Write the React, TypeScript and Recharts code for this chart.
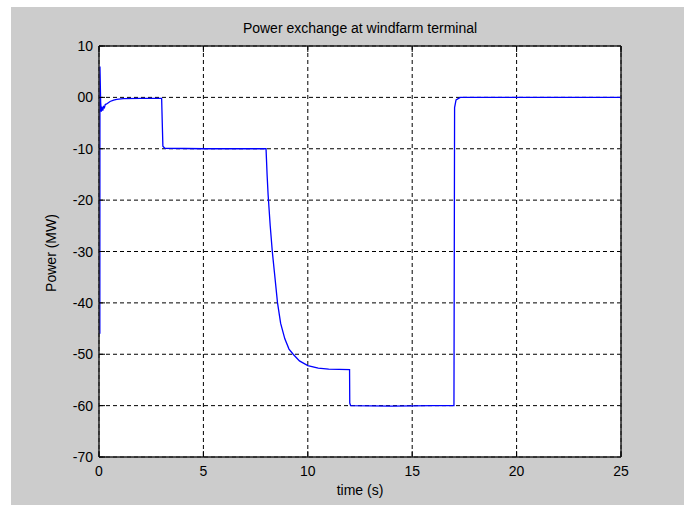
import { LineChart, Line, XAxis, YAxis, CartesianGrid } from "recharts";

// time (s)
const time = [
    0.04, 0.045, 0.06, 0.08, 0.11, 0.14, 0.18, 0.22, 0.26, 0.3, 0.4, 0.53, 0.7, 0.85, 1.16, 2, 3,
    3.03, 3.06, 3.15, 5, 8,
    8.02, 8.05, 8.1, 8.2, 8.3, 8.4, 8.55, 8.7, 8.9, 9.1, 9.3, 9.6, 10, 10.5, 11, 12,
    12.01, 12.05, 14, 16, 17,
    17.03, 17.1, 17.3, 20, 25,
];
// power (MW)
const power = [
    -46, 6, 3, -1, -2.8, -1.8, -2.6, -1.8, -2, -1.4, -1.2, -0.8, -0.55, -0.4, -0.25, -0.2, -0.2,
    -5, -9.5, -9.9, -10, -10,
    -12, -15, -19, -25, -30, -34, -40, -44, -47, -49, -50, -51.3, -52.2, -52.7, -52.9, -53,
    -59.5, -60, -60.1, -60, -60,
    -2, -0.5, 0, 0, 0,
];

const xTicks = [0, 5, 10, 15, 20, 25];
const yTicks = [-70, -60, -50, -40, -30, -20, -10, 0, 10];

const data = time.map((t, i) => ({ t, p: power[i] }));

const W = 673;
const H = 498;
const TICK = 6;
const FONT = "'Liberation Sans', Arial, sans-serif";
const AXIS = { stroke: "#222", strokeWidth: 1.5 };

const yLabel = (v: number) => (v === 0 ? "00" : String(v));

const BottomTick = (props: any) => {
    const { x, y, payload } = props;
    return (
        <g>
            <line x1={x} y1={y} x2={x} y2={y - TICK} stroke="#000" />
            <text x={x} y={y + 14} textAnchor="middle" dominantBaseline="central"
                fontFamily={FONT} fontSize={14} fill="#000">
                {payload.value}
            </text>
        </g>
    );
};

const TopTick = (props: any) => {
    const { x, y } = props;
    return <line x1={x} y1={y} x2={x} y2={y + TICK} stroke="#000" />;
};

const LeftTick = (props: any) => {
    const { x, y, payload } = props;
    return (
        <g>
            <line x1={x} y1={y} x2={x + TICK} y2={y} stroke="#000" />
            <text x={x - 6} y={y} textAnchor="end" dominantBaseline="central"
                fontFamily={FONT} fontSize={14} fill="#000">
                {yLabel(payload.value)}
            </text>
        </g>
    );
};

const RightTick = (props: any) => {
    const { x, y } = props;
    return <line x1={x} y1={y} x2={x - TICK} y2={y} stroke="#000" />;
};

export default function App() {
    return (
        <div style={{ position: "absolute", left: 11, top: 7, width: W, height: H, background: "#cccccc" }}>
            <LineChart width={W} height={H} data={data}
                margin={{ top: 38, right: 62, bottom: 18, left: 48 }}>
                <CartesianGrid stroke="#000" strokeDasharray="4 3" fill="#ffffff" fillOpacity={1}
                    horizontalValues={yTicks} verticalValues={xTicks} />
                <XAxis dataKey="t" type="number" domain={[0, 25]} ticks={xTicks} interval={0}
                    height={30} tickSize={0} tickMargin={0} tick={BottomTick}
                    axisLine={AXIS} tickLine={false} />
                <XAxis xAxisId="top" orientation="top" dataKey="t" type="number" domain={[0, 25]}
                    ticks={xTicks} interval={0} height={1} tickSize={0} tickMargin={0} tick={TopTick}
                    axisLine={AXIS} tickLine={false} />
                <YAxis type="number" domain={[-70, 10]} ticks={yTicks} interval={0} width={40}
                    tickSize={0} tickMargin={0} tick={LeftTick}
                    axisLine={AXIS} tickLine={false} />
                <YAxis yAxisId="right" orientation="right" type="number" domain={[-70, 10]} ticks={yTicks}
                    interval={0} width={1} tickSize={0} tickMargin={0} tick={RightTick}
                    axisLine={AXIS} tickLine={false} />
                <Line type="linear" dataKey="p" stroke="#0000ff" strokeWidth={1.3} dot={false}
                    isAnimationActive={false} />
            </LineChart>
            <svg width={W} height={H} style={{ position: "absolute", left: 0, top: 0, pointerEvents: "none" }}>
                <text x={349} y={26} textAnchor="middle" fontFamily={FONT} fontSize={14} fill="#000">
                    Power exchange at windfarm terminal
                </text>
                <text x={349} y={488} textAnchor="middle" fontFamily={FONT} fontSize={14} fill="#000">
                    time (s)
                </text>
                <text x={45} y={246} textAnchor="middle" fontFamily={FONT} fontSize={14} fill="#000"
                    transform="rotate(-90, 45, 246)">
                    Power (MW)
                </text>
            </svg>
        </div>
    );
}
